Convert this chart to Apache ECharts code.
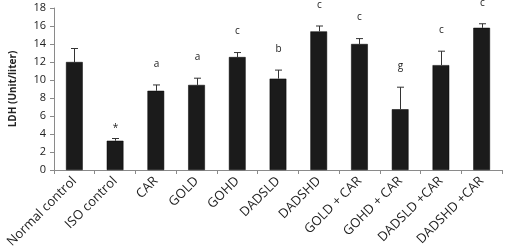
<!DOCTYPE html>
<html>
<head>
<meta charset="utf-8">
<script src="https://cdn.jsdelivr.net/npm/echarts@6/dist/echarts.min.js"></script>
<style>
  html, body { margin: 0; padding: 0; background: #fff; }
  #chart { width: 505px; height: 252px; }
</style>
</head>
<body>
<div id="chart"></div>
<script>
var groups = ['Normal control', 'ISO control', 'CAR', 'GOLD', 'GOHD', 'DADSLD',
  'DADSHD', 'GOLD + CAR', 'GOHD + CAR', 'DADSLD +CAR', 'DADSHD +CAR'];
var ldh = [12.0, 3.25, 8.8, 9.45, 12.55, 10.15, 15.4, 14.0, 6.75, 11.65, 15.8];
var errUp = [13.5, 3.5, 9.45, 10.2, 13.05, 11.1, 16.0, 14.6, 9.2, 13.2, 16.25];
var sig = ['', '*', 'a', 'a', 'c', 'b', 'c', 'c', 'g', 'c', 'c'];
var yTicks = [0, 2, 4, 6, 8, 10, 12, 14, 16, 18];

var myChart = echarts.init(document.getElementById('chart'));

var errData = groups.map(function (g, i) {
  return [i, ldh[i], errUp[i]];
});

var option = {
  animation: false,
  textStyle: { fontFamily: 'Open Sans' },
  grid: { left: 44, right: 3, top: 8, bottom: 82 },
  xAxis: {
    type: 'category',
    data: groups,
    axisLine: { lineStyle: { color: '#8a8a8a', width: 1 } },
    axisTick: { show: true, length: 4, lineStyle: { color: '#8a8a8a' } },
    axisLabel: { rotate: 45, interval: 0, color: '#222', fontSize: 13, margin: 9 }
  },
  yAxis: {
    type: 'value',
    min: yTicks[0],
    max: yTicks[yTicks.length - 1],
    interval: 2,
    name: 'LDH (Unit/liter)',
    nameLocation: 'middle',
    nameGap: 36,
    nameRotate: 90,
    nameTextStyle: { fontWeight: 'bold', fontSize: 10, color: '#222' },
    splitLine: { show: false },
    axisLine: { show: true, lineStyle: { color: '#8a8a8a' } },
    axisTick: { show: true, length: 4, lineStyle: { color: '#8a8a8a' } },
    axisLabel: { color: '#222', fontSize: 11, margin: 8 }
  },
  series: [{
    type: 'bar',
    data: ldh,
    barWidth: '41%',
    itemStyle: { color: '#1b1b1b', borderColor: '#000', borderWidth: 0.5 }
  }, {
    type: 'custom',
    data: errData,
    clip: false,
    z: 5,
    renderItem: function (params, api) {
      var top = api.coord([api.value(0), api.value(1)]);
      var hi = api.coord([api.value(0), api.value(2)]);
      var label = sig[params.dataIndex];
      var x = Math.round(top[0]) + 0.5;
      var cap = 3.5;
      var children = [{
        type: 'line',
        shape: { x1: x, y1: top[1], x2: x, y2: hi[1] },
        style: { stroke: '#333', lineWidth: 1 }
      }, {
        type: 'line',
        shape: { x1: x - cap, y1: hi[1], x2: x + cap, y2: hi[1] },
        style: { stroke: '#333', lineWidth: 1 }
      }];
      if (label) {
        children.push({
          type: 'text',
          style: {
            text: label,
            x: x,
            y: hi[1] - (label === '*' ? 10 : 21),
            align: 'center',
            verticalAlign: 'middle',
            fill: '#222',
            font: '10px "Open Sans"'
          }
        });
      }
      return { type: 'group', children: children };
    }
  }]
};

myChart.setOption(option);
</script>
</body>
</html>
